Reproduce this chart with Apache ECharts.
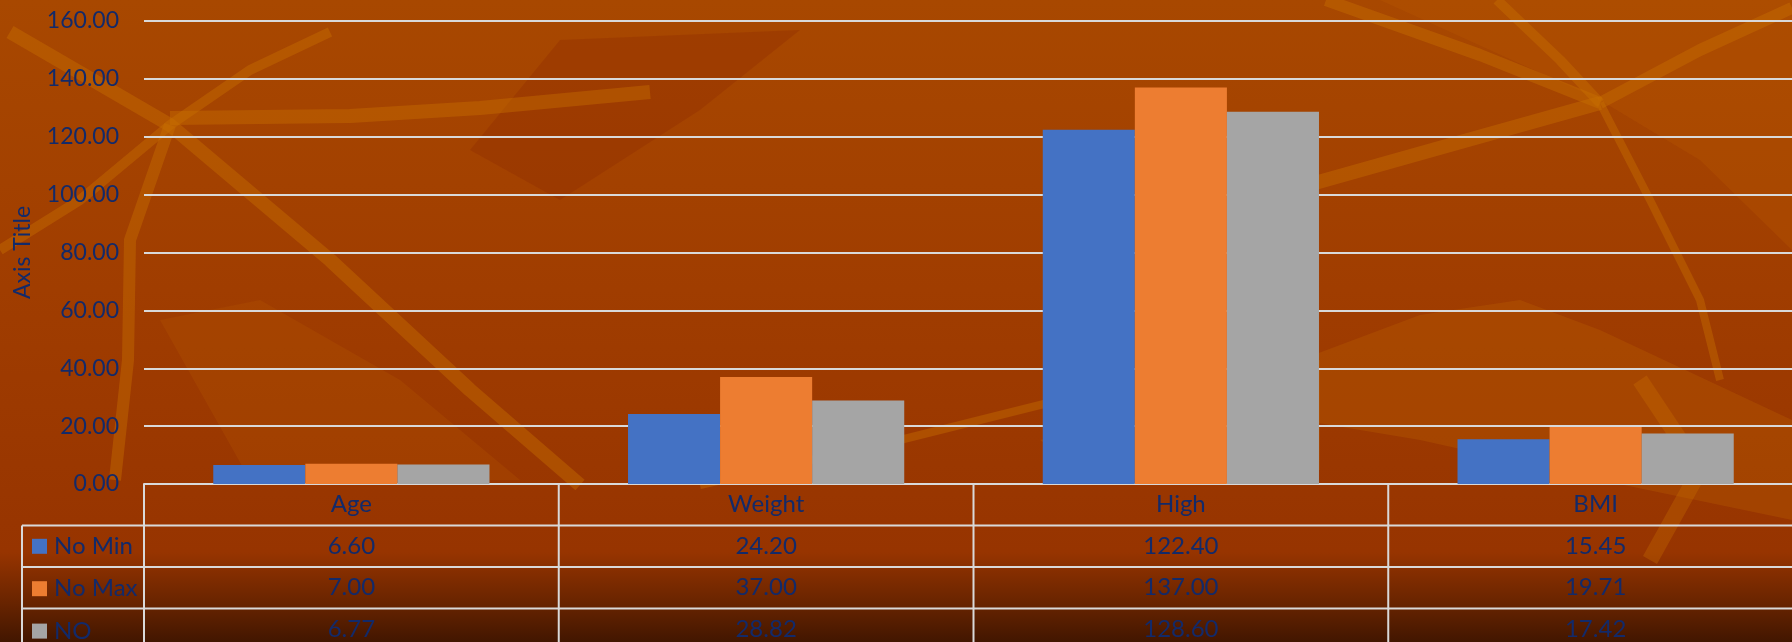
<!DOCTYPE html>
<html>
<head>
<meta charset="utf-8">
<script src="https://cdn.jsdelivr.net/npm/echarts@6/dist/echarts.min.js"></script>
<style>
html,body{margin:0;padding:0;background:#9c3a00;}
#chart{width:1792px;height:642px;}
</style>
</head>
<body>
<div id="chart"></div>
<script>
const categories = ['Age', 'Weight', 'High', 'BMI'];
const seriesNames = ['No Min', 'No Max', 'NO'];
const noMin = [6.60, 24.20, 122.40, 15.45];
const noMax = [7.00, 37.00, 137.00, 19.71];
const noAll = [6.77, 28.82, 128.60, 17.42];
const yMin = 0, yMax = 160, yStep = 20;
const axisTitle = 'Axis Title';

const seriesValues = [noMin, noMax, noAll];
const colors = ['#4472C4', '#ED7D31', '#A5A5A5'];
const textColor = '#122A6A';
const lineColor = '#D9D9D9';
const FONT = 'Lato';
const FS = 23;
const FS_T = 24;
const ROW_H = 41.5;

const chart = echarts.init(document.getElementById('chart'), null, {renderer: 'canvas'});

// decorative background streaks (theme artwork, not data)
function band(points, w, color) {
  return {type: 'polyline', z: -10, silent: true,
    shape: {points: points},
    style: {stroke: color, lineWidth: w, lineJoin: 'round', fill: null}};
}
function patch(points, color) {
  return {type: 'polygon', z: -11, silent: true,
    shape: {points: points}, style: {fill: color}};
}
const streak = 'rgba(200,112,0,0.42)';
const soft = 'rgba(190,100,0,0.30)';
const darkP = 'rgba(140,40,0,0.30)';
const deco = [
  patch([[1380,0],[1792,0],[1792,250],[1700,160],[1600,100]], 'rgba(185,90,0,0.30)'),
  patch([[560,40],[800,30],[700,110],[560,200],[470,150]], darkP),
  patch([[1300,360],[1420,315],[1520,300],[1600,330],[1792,420],[1792,520],[1600,480],[1420,440],[1300,420]], soft),
  patch([[1040,440],[1200,400],[1320,360],[1320,470],[1100,480]], soft),
  patch([[160,320],[260,300],[400,380],[520,480],[250,480]], 'rgba(185,95,0,0.22)'),
  band([[10,32],[170,125],[330,260],[470,390],[580,485]], 14, streak),
  band([[0,250],[80,200],[170,125],[250,70],[330,32]], 10, streak),
  band([[170,118],[350,116],[480,108],[650,92]], 14, streak),
  band([[170,125],[130,240],[128,360],[115,480]], 12, streak),
  band([[1326,0],[1480,55],[1600,103]], 12, streak),
  band([[1497,0],[1560,60],[1600,103]], 10, streak),
  band([[1600,103],[1450,145],[1290,190]], 14, streak),
  band([[1600,103],[1650,200],[1700,300],[1720,380]], 8, streak),
  band([[1600,103],[1700,50],[1792,8]], 12, streak),
  band([[700,485],[900,440],[1060,400]], 8, streak),
  band([[1640,380],[1700,470],[1650,560]], 16, 'rgba(205,115,0,0.3)')
];

const option = {
  backgroundColor: {
    type: 'linear', x: 0, y: 0, x2: 0, y2: 1,
    colorStops: [
      {offset: 0, color: '#A84800'},
      {offset: 0.45, color: '#A03D00'},
      {offset: 0.86, color: '#973400'},
      {offset: 0.93, color: '#6E2600'},
      {offset: 1, color: '#421600'}
    ]
  },
  animation: false,
  textStyle: {fontFamily: FONT},
  grid: {left: 144, right: -11, top: 21, bottom: 158, containLabel: false, outerBoundsMode: 'none'},
  legend: {
    data: seriesNames,
    orient: 'vertical',
    left: 32, top: 534.3, height: 200, padding: 0,
    itemWidth: 15, itemHeight: 15, itemGap: 18.4,
    icon: 'rect',
    selectedMode: false,
    textStyle: {fontFamily: FONT, fontSize: FS_T, lineHeight: 20, color: textColor, padding: [0, 0, 0, 2]}
  },
  xAxis: {
    type: 'category',
    data: categories,
    axisTick: {show: false},
    axisLine: {show: true, lineStyle: {color: lineColor, width: 2}},
    axisLabel: {
      interval: 0, margin: 0,
      fontFamily: FONT, fontSize: FS_T, color: textColor, lineHeight: ROW_H,
      formatter: function (val, idx) {
        return [val].concat(seriesValues.map(function (s) { return s[idx].toFixed(2); })).join('\n');
      }
    }
  },
  yAxis: {
    type: 'value', min: yMin, max: yMax, interval: yStep,
    name: axisTitle, nameLocation: 'middle', nameGap: 110,
    nameTextStyle: {fontFamily: FONT, fontSize: FS, color: textColor},
    axisLine: {show: false}, axisTick: {show: false},
    axisLabel: {margin: 25, fontFamily: FONT, fontSize: FS, color: textColor,
      formatter: function (v) { return v.toFixed(2); }},
    splitLine: {lineStyle: {color: lineColor, width: 2}}
  },
  series: seriesNames.map(function (name, i) {
    return {
      name: name, type: 'bar', data: seriesValues[i],
      barGap: '0%', barCategoryGap: '33.4%',
      itemStyle: {color: colors[i]}
    };
  }),
  graphic: deco
};
chart.setOption(option);

// data table grid lines, placed from the axis scales
const y0 = chart.convertToPixel({yAxisIndex: 0}, 0);
const cx = categories.map(function (c) { return chart.convertToPixel({xAxisIndex: 0}, c); });
const half = (cx[1] - cx[0]) / 2;
const bounds = cx.map(function (c) { return c - half; });
bounds.push(cx[cx.length - 1] + half);
const legendLeft = 22;
const tbl = [];
for (let r = 1; r <= seriesNames.length; r++) {
  tbl.push({type: 'line', z: 50, silent: true,
    shape: {x1: legendLeft, y1: y0 + r * ROW_H, x2: bounds[bounds.length - 1], y2: y0 + r * ROW_H},
    style: {stroke: lineColor, lineWidth: 2}});
}
bounds.forEach(function (b) {
  tbl.push({type: 'line', z: 50, silent: true,
    shape: {x1: b, y1: y0, x2: b, y2: y0 + (seriesNames.length + 1) * ROW_H},
    style: {stroke: lineColor, lineWidth: 2}});
});
tbl.push({type: 'line', z: 50, silent: true,
  shape: {x1: legendLeft, y1: y0 + ROW_H, x2: legendLeft, y2: y0 + (seriesNames.length + 1) * ROW_H},
  style: {stroke: lineColor, lineWidth: 2}});
chart.setOption({graphic: deco.concat(tbl)}, {replaceMerge: ['graphic']});
</script>
</body>
</html>
